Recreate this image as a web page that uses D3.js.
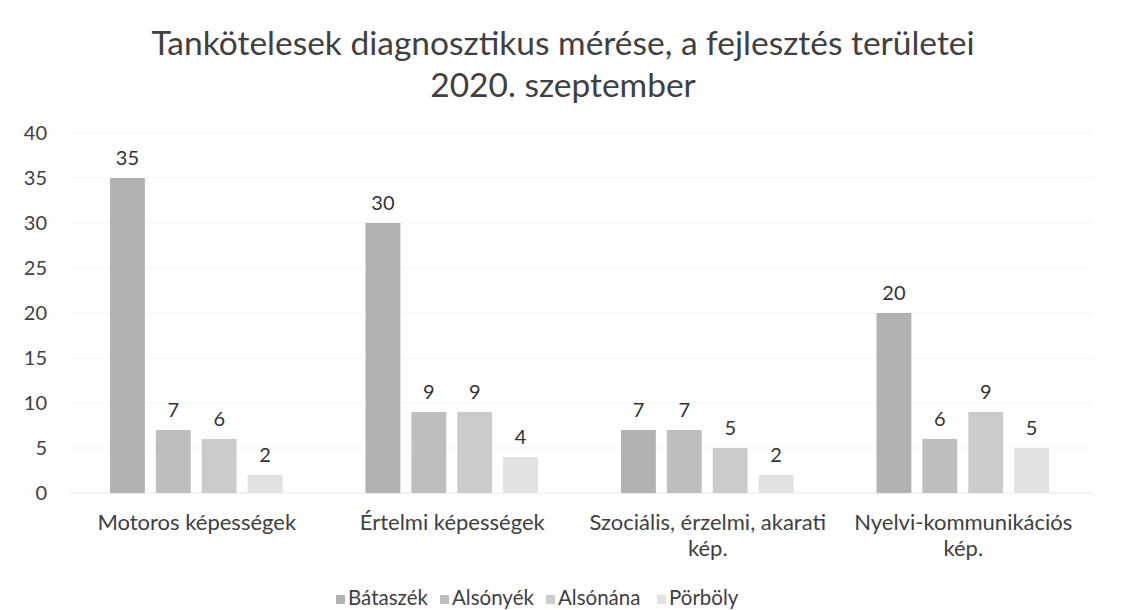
<!DOCTYPE html>
<html><head><meta charset="utf-8">
<script src="https://cdn.jsdelivr.net/npm/d3@7"></script>
<style>body{margin:0;background:#fff}svg{display:block}</style>
</head><body><svg id="c" width="1126" height="610"></svg>
<script>
const categories = [["Motoros képességek"],["Értelmi képességek"],["Szociális, érzelmi, akarati","kép."],["Nyelvi-kommunikációs","kép."]];
const seriesNames = ["Bátaszék","Alsónyék","Alsónána","Pörböly"];
const bataszek = [35,30,7,20];
const alsonyek = [7,9,7,6];
const alsonana = [6,9,5,9];
const porboly = [2,4,2,5];
const yTicks = [0,5,10,15,20,25,30,35,40];
const colors = ["#b2b2b2","#bebebe","#cbcbcb","#e2e2e2"];
const values = [bataszek, alsonyek, alsonana, porboly];

const font = "Lato, 'Open Sans', sans-serif";
const svg = d3.select("#c");
const pLeft = 70, pRight = 1092, pTop = 133, pBottom = 493;
const x0 = d3.scaleBand().domain(d3.range(categories.length)).range([pLeft,pRight]);
const x1 = d3.scaleBand().domain(d3.range(seriesNames.length)).range([40, x0.bandwidth()-43]).paddingInner(0.24);
const y = d3.scaleLinear().domain([0,40]).range([pBottom, pTop]);

// gridlines
svg.append("g").selectAll("line").data(yTicks).join("line")
  .attr("x1", pLeft).attr("x2", pRight).attr("y1", d=>y(d)).attr("y2", d=>y(d))
  .attr("stroke", d=>d===0?"#e8e8e8":"#f5f5f5").attr("stroke-width",1);

// y axis labels
const yAxis = d3.axisLeft(y).tickValues(yTicks).tickSize(0).tickPadding(0);
const ya = svg.append("g").attr("transform", `translate(47,0)`).call(yAxis);
ya.select(".domain").remove();
ya.selectAll("text").attr("font-family", font).attr("font-size", 20).attr("fill", "#404040");

// bars
const g = svg.append("g");
categories.forEach((c, ci) => {
  seriesNames.forEach((s, si) => {
    const v = values[si][ci];
    const bx = x0(ci) + x1(si);
    g.append("rect").attr("x", bx).attr("y", y(v)).attr("width", x1.bandwidth()).attr("height", y(0)-y(v))
      .attr("fill", colors[si]);
    g.append("text").attr("x", bx + x1.bandwidth()/2).attr("y", y(v) - 13)
      .attr("text-anchor","middle").attr("font-family", font).attr("font-size", 20).attr("fill","#333")
      .text(v);
  });
  const cx = x0(ci)+x0.bandwidth()/2 - 1;
  const t = svg.append("text").attr("x", cx).attr("y", 530)
    .attr("text-anchor","middle").attr("font-family", font).attr("font-size", 22).attr("fill","#404040");
  c.forEach((line, li) => t.append("tspan").attr("x", cx).attr("dy", li===0?0:26).text(line));
});

// title
svg.append("text").attr("x", 563).attr("y", 55).attr("text-anchor","middle")
  .attr("font-family", font).attr("font-size", 33.5).attr("fill","#404040").text("Tankötelesek diagnosztikus mérése, a fejlesztés területei");
svg.append("text").attr("x", 563).attr("y", 97).attr("text-anchor","middle")
  .attr("font-family", font).attr("font-size", 33.5).attr("fill","#404040").text("2020. szeptember");

// legend
const legX = [336, 440, 546, 657];
const lg = svg.append("g");
seriesNames.forEach((s, i) => {
  lg.append("rect").attr("x", legX[i]).attr("y", 595).attr("width", 9).attr("height", 9).attr("fill", colors[i]);
  lg.append("text").attr("x", legX[i]+12).attr("y", 605).attr("font-family", font).attr("font-size", 20.5).attr("fill","#404040").text(s);
});
</script></body></html>
